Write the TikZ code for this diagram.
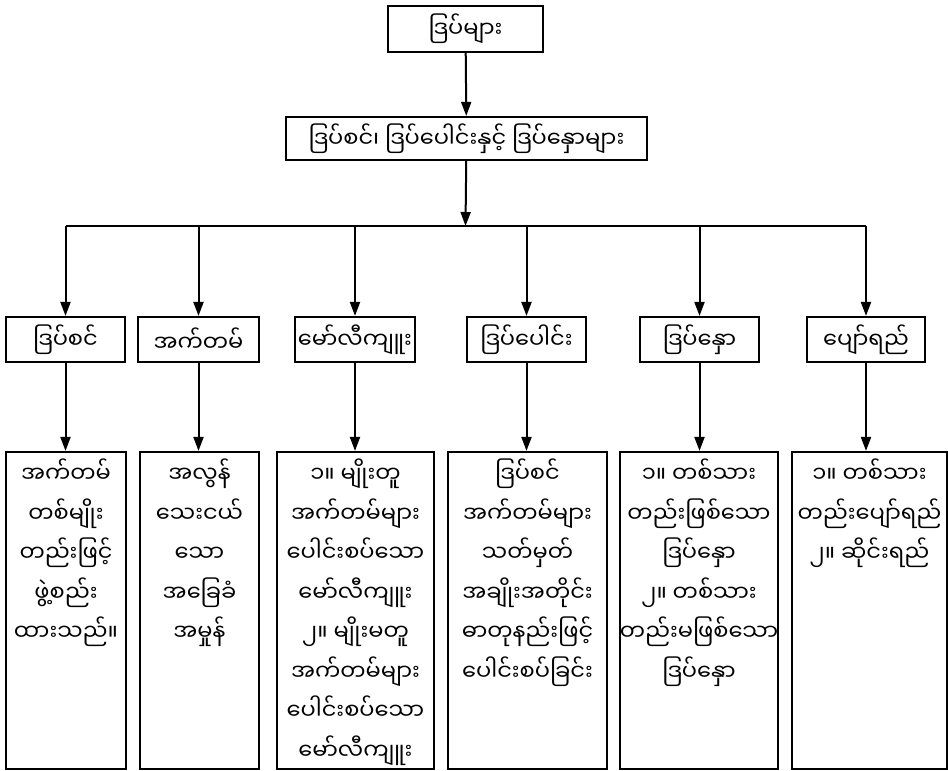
\documentclass[tikz,border=0pt]{standalone}
\usepackage{fontspec}
\newfontfamily\mmfont[Script=Myanmar]{Noto Sans Myanmar UI}
\usetikzlibrary{arrows.meta}

\begin{document}
\begin{tikzpicture}[
    x=1pt, y=-1pt,
    box/.style={rectangle, draw, line width=2.2pt, text centered, inner sep=0pt, font=\mmfont\fontsize{22.5}{26}\selectfont},
    detail/.style={rectangle, draw, line width=2.2pt, minimum height=317pt, inner sep=0pt},
    dtext/.style={anchor=north, align=center, inner sep=0pt, font=\mmfont\fontsize{22.5}{39.5}\selectfont},
    arrow/.style={-{Triangle[length=14pt, width=10pt]}, line width=2pt}
]
\useasboundingbox (0,0) rectangle (948,771);

% Top
\node[box, minimum width=155pt, minimum height=46pt] (top) at (465.5, 29) {ဒြပ်များ};
\node[box, minimum width=361pt, minimum height=43pt] (mid) at (466.5, 138.5) {ဒြပ်စင်၊ ဒြပ်ပေါင်းနှင့် ဒြပ်နှောများ};
\coordinate (bus) at (465.5, 226);

% Kinds
\node[box, minimum width=119pt, minimum height=45pt] (l1) at (65.5, 339.5) {ဒြပ်စင်};
\node[box, minimum width=121pt, minimum height=45pt] (l2) at (198.5, 339.5) {အက်တမ်};
\node[box, minimum width=120pt, minimum height=45pt] (l3) at (355, 339.5) {မော်လီကျူး};
\node[box, minimum width=119pt, minimum height=45pt] (l4) at (526.5, 339.5) {ဒြပ်ပေါင်း};
\node[box, minimum width=119pt, minimum height=45pt] (l5) at (699.5, 339.5) {ဒြပ်နှော};
\node[box, minimum width=118pt, minimum height=45pt] (l6) at (866, 339.5) {ပျော်ရည်};

% Details
\node[detail, minimum width=120pt] (d1) at (66, 610.5) {};
\node[detail, minimum width=119pt] (d2) at (199.5, 610.5) {};
\node[detail, minimum width=157pt] (d3) at (355.5, 610.5) {};
\node[detail, minimum width=159pt] (d4) at (527.5, 610.5) {};
\node[detail, minimum width=158pt] (d5) at (699, 610.5) {};
\node[detail, minimum width=155pt] (d6) at (869.5, 610.5) {};

\node[dtext] (t1) at ([yshift=-8pt]d1.north) {အက်တမ်\\တစ်မျိုး\\တည်းဖြင့်\\ဖွဲ့စည်း\\ထားသည်။};
\node[dtext] (t2) at ([yshift=-8pt]d2.north) {အလွန်\\သေးငယ်\\သော\\အခြေခံ\\အမှုန်};
\node[dtext] (t3) at ([yshift=-8pt]d3.north) {၁။ မျိုးတူ\\အက်တမ်များ\\ပေါင်းစပ်သော\\မော်လီကျူး\\၂။ မျိုးမတူ\\အက်တမ်များ\\ပေါင်းစပ်သော\\မော်လီကျူး};
\node[dtext] (t4) at ([yshift=-8pt]d4.north) {ဒြပ်စင်\\အက်တမ်များ\\သတ်မှတ်\\အချိုးအတိုင်း\\ဓာတုနည်းဖြင့်\\ပေါင်းစပ်ခြင်း};
\node[dtext] (t5) at ([yshift=-8pt]d5.north) {၁။ တစ်သား\\တည်းဖြစ်သော\\ဒြပ်နှော\\၂။ တစ်သား\\တည်းမဖြစ်သော\\ဒြပ်နှော};
\node[dtext] (t6) at ([yshift=-8pt]d6.north) {၁။ တစ်သား\\တည်းပျော်ရည်\\၂။ ဆိုင်းရည်};

% Arrows
\draw[arrow] (top) -- (mid);
\draw[arrow] (mid) -- (bus);
\draw[line width=2pt] (l1 |- bus) -- (l6 |- bus);
\draw[arrow] (l1 |- bus) -- (l1); \draw[arrow] (l1) -- (l1.south |- d1.north);
\draw[arrow] (l2 |- bus) -- (l2); \draw[arrow] (l2) -- (l2.south |- d2.north);
\draw[arrow] (l3 |- bus) -- (l3); \draw[arrow] (l3) -- (l3.south |- d3.north);
\draw[arrow] (l4 |- bus) -- (l4); \draw[arrow] (l4) -- (l4.south |- d4.north);
\draw[arrow] (l5 |- bus) -- (l5); \draw[arrow] (l5) -- (l5.south |- d5.north);
\draw[arrow] (l6 |- bus) -- (l6); \draw[arrow] (l6) -- (l6.south |- d6.north);

\end{tikzpicture}
\end{document}
